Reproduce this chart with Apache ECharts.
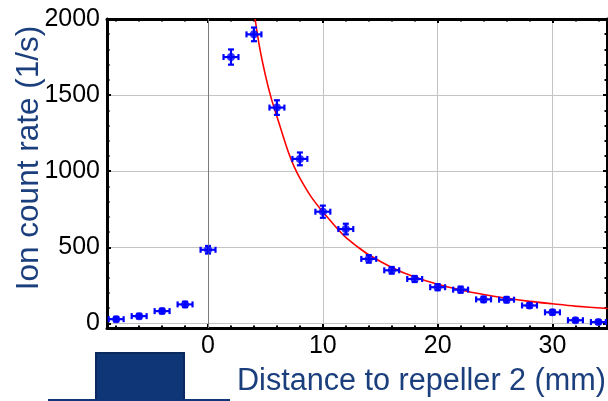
<!DOCTYPE html>
<html>
<head>
<meta charset="utf-8">
<script src="https://cdn.jsdelivr.net/npm/echarts@6/dist/echarts.min.js"></script>
<style>
html,body{margin:0;padding:0;background:#fff;}
#chart{width:608px;height:401px;}
</style>
</head>
<body>
<div id="chart"></div>
<script>
// ---- data ----
const distance = [-8,-6,-4,-2,0,2,4,6,8,10,12,14,16,18,20,22,24,26,28,30,32,34];
const countRate = [28,48,81,125,484,1750,1899,1418,1081,734,620,424,349,292,238,222,158,156,118,73,21,9];
const rateErr = [15,15,15,18,25,50,45,48,42,40,35,25,22,20,20,20,18,18,15,15,12,12];
const distErr = [0.65,0.65,0.65,0.65,0.65,0.65,0.65,0.65,0.65,0.65,0.65,0.65,0.65,0.65,0.65,0.65,0.65,0.65,0.65,0.65,0.65,0.65];

const fitX = [4.1,4.5,5,5.5,6,6.5,7,7.5,8,9,10,11,12,13,14,16,18,20,22,24,26,28,30,32,34.8];
const fitY = [2000,1810,1630,1480,1360,1240,1125,1030,955,830,733,645,565,505,451,368,305,257,220,190,165,145,129,114,98];

const xMajorTicks = [0,10,20,30];
const xMinorTicks = [-8,-6,-4,-2,2,4,6,8,12,14,16,18,22,24,26,28,32,34];
const yMajorTicks = [0,500,1000,1500,2000];
const yMinorTicks = [100,200,300,400,600,700,800,900,1100,1200,1300,1400,1600,1700,1800,1900];

const xTitle = 'Distance to repeller 2 (mm)';
const yTitle = 'Ion count rate (1/s)';

// ---- build ----
const FONT = '"Liberation Sans", Arial, sans-serif';
const TITLE_COLOR = '#1b3f7d';
const xMin = -8.8, xMax = 34.75, yMin = -30, yMax = 2000;

function xAx(pos, ticks, len, opts) {
  return Object.assign({
    type: 'value', position: pos, min: xMin, max: xMax,
    axisLine: { show: false, onZero: false },
    axisTick: { show: true, inside: true, length: len, customValues: ticks, lineStyle: { color: '#000', width: 2 } },
    axisLabel: { show: false },
    splitLine: { show: false }
  }, opts || {});
}
function yAx(pos, ticks, len, opts) {
  return Object.assign({
    type: 'value', position: pos, min: yMin, max: yMax,
    axisLine: { show: false, onZero: false },
    axisTick: { show: true, inside: true, length: len, customValues: ticks, lineStyle: { color: '#000', width: 2 } },
    axisLabel: { show: false },
    splitLine: { show: false }
  }, opts || {});
}

const pts = distance.map((d, i) => [d, countRate[i], distErr[i], rateErr[i]]);
const fit = fitX.map((x, i) => [x, fitY[i]]);

const chart = echarts.init(document.getElementById('chart'), null, { renderer: 'canvas' });
const errStyle = { stroke: '#0000ff', lineWidth: 2.2 };
const CAP = 3;

chart.setOption({
  animation: false,
  backgroundColor: '#ffffff',
  grid: { left: 107, top: 19, width: 500, height: 309, containLabel: false },
  xAxis: [
    xAx('bottom', xMajorTicks, 4, {
      axisLine: { show: true, onZero: false, lineStyle: { color: '#000', width: 3 } },
      axisLabel: { show: true, customValues: xMajorTicks, color: '#000', fontSize: 25, fontFamily: FONT, margin: 6,
                   formatter: v => String(v) },
      splitLine: { show: true, lineStyle: { color: '#c4c4c4', width: 1 } }
    }),
    xAx('bottom', xMinorTicks, 2.5),
    xAx('top', xMajorTicks, 4, { axisLine: { show: true, onZero: false, lineStyle: { color: '#000', width: 3 } } }),
    xAx('top', xMinorTicks, 2.5)
  ],
  yAxis: [
    yAx('left', yMajorTicks, 4, {
      axisLine: { show: true, onZero: false, lineStyle: { color: '#000', width: 3 } },
      axisLabel: { show: true, customValues: yMajorTicks, color: '#000', fontSize: 25, fontFamily: FONT, margin: 7,
                   formatter: v => String(v) },
      splitLine: { show: true, lineStyle: { color: '#c4c4c4', width: 1 } }
    }),
    yAx('left', yMinorTicks, 2.5),
    yAx('right', yMajorTicks, 4, { axisLine: { show: true, onZero: false, lineStyle: { color: '#000', width: 3 } } }),
    yAx('right', yMinorTicks, 2.5)
  ],
  series: [
    {
      type: 'line', xAxisIndex: 0, yAxisIndex: 0,
      data: [], silent: true,
      markLine: {
        silent: true, symbol: 'none', label: { show: false },
        lineStyle: { color: '#7a7a7a', width: 1, type: 'solid' },
        data: [{ xAxis: 0 }]
      }
    },
    {
      type: 'line', xAxisIndex: 0, yAxisIndex: 0,
      data: fit, smooth: 0.3, showSymbol: false, symbol: 'none',
      lineStyle: { color: '#ff0000', width: 1.6 }, clip: true, z: 3
    },
    {
      type: 'custom', xAxisIndex: 0, yAxisIndex: 0, z: 4,
      data: pts,
      renderItem: function (params, api) {
        const x = api.value(0), y = api.value(1), ex = api.value(2), ey = api.value(3);
        const l = api.coord([x - ex, y]), r = api.coord([x + ex, y]);
        const t = api.coord([x, y + ey]), b = api.coord([x, y - ey]);
        return {
          type: 'group',
          children: [
            { type: 'line', shape: { x1: l[0], y1: l[1], x2: r[0], y2: r[1] }, style: errStyle },
            { type: 'line', shape: { x1: l[0], y1: l[1] - CAP, x2: l[0], y2: l[1] + CAP }, style: errStyle },
            { type: 'line', shape: { x1: r[0], y1: r[1] - CAP, x2: r[0], y2: r[1] + CAP }, style: errStyle },
            { type: 'line', shape: { x1: t[0], y1: t[1], x2: b[0], y2: b[1] }, style: errStyle },
            { type: 'line', shape: { x1: t[0] - CAP, y1: t[1], x2: t[0] + CAP, y2: t[1] }, style: errStyle },
            { type: 'line', shape: { x1: b[0] - CAP, y1: b[1], x2: b[0] + CAP, y2: b[1] }, style: errStyle }
          ]
        };
      }
    },
    {
      type: 'scatter', xAxisIndex: 0, yAxisIndex: 0, z: 5,
      data: pts.map(p => [p[0], p[1]]),
      symbol: 'circle', symbolSize: 8,
      itemStyle: { color: '#0000ff' }
    }
  ],
  graphic: [
    { type: 'rect', left: 95, top: 352, shape: { width: 88, height: 52 },
      style: { fill: '#0f3677', stroke: '#0a2a5e', lineWidth: 2 }, z: 10 },
    { type: 'line', shape: { x1: 48, y1: 400, x2: 230, y2: 400 },
      style: { stroke: '#0f3677', lineWidth: 2 }, z: 10 },
    { type: 'text', x: 237, y: 382,
      style: { text: xTitle, font: '30.6px ' + FONT, fill: TITLE_COLOR, textAlign: 'left', textVerticalAlign: 'middle' }, z: 10 },
    { type: 'text', x: 29, y: 158, rotation: Math.PI / 2,
      style: { text: yTitle, font: '31.5px ' + FONT, fill: TITLE_COLOR, textAlign: 'center', textVerticalAlign: 'middle' }, z: 10 }
  ]
});
</script>
</body>
</html>
